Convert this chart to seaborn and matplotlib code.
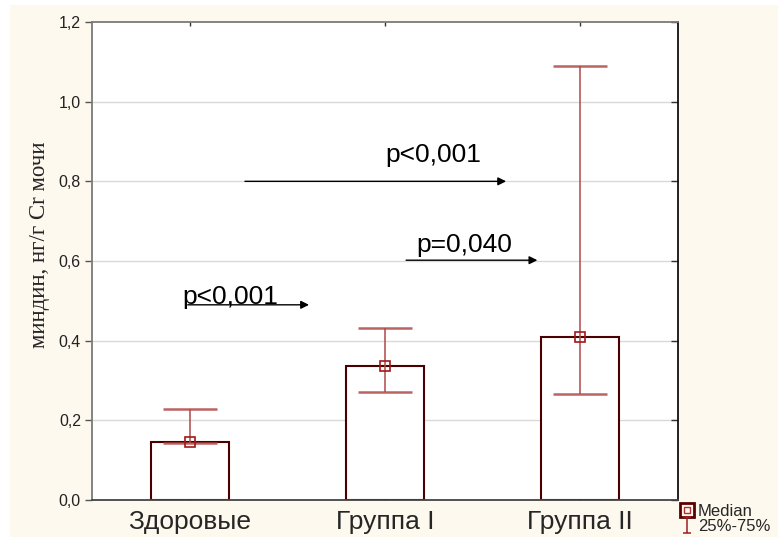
import numpy as np
import pandas as pd
import seaborn as sns
import matplotlib
matplotlib.use("Agg")
import matplotlib.pyplot as plt
from matplotlib.patches import Rectangle
from matplotlib.lines import Line2D
from matplotlib.path import Path

# Group medians and interquartile ranges
categories = ["Здоровые", "Группа I", "Группа II"]
median = [0.146, 0.336, 0.409]
q25 = [0.142, 0.272, 0.266]
q75 = [0.229, 0.433, 1.090]
y_ticks = [0.0, 0.2, 0.4, 0.6, 0.8, 1.0, 1.2]
y_tick_labels = ["0,0", "0,2", "0,4", "0,6", "0,8", "1,0", "1,2"]

# Significance annotations: (text, x text, y text, x start, x end, y arrow)
p_labels = ["p<0,001", "p=0,040", "p<0,001"]
p_text_x = [1.0, 1.16, -0.04]
p_text_y = [0.866, 0.64, 0.51]
p_arrow_x0 = [0.283, 1.108, -0.01]
p_arrow_x1 = [1.62, 1.78, 0.611]
p_arrow_y = [0.80, 0.602, 0.49]

df = pd.DataFrame({"group": categories, "median": median})

sns.set_theme(style="white")
plt.rcParams["font.family"] = ["Liberation Sans", "DejaVu Sans"]

W, H = 778, 537
fig = plt.figure(figsize=(W / 100, H / 100), dpi=100)
fig.patch.set_facecolor("white")
fig.patches.append(Rectangle((10 / W, 0), 1 - 10 / W, 1 - 5 / H,
                             transform=fig.transFigure, facecolor="#fef9ee",
                             edgecolor="none", zorder=-10))

ax = fig.add_axes([92 / W, 1 - 500 / H, (678 - 92) / W, 478 / H])
ax.set_facecolor("white")

for v in y_ticks[1:-1]:
    ax.axhline(v, color="#d9d9d9", lw=1.0, zorder=0)

sns.barplot(data=df, x="group", y="median", ax=ax, width=0.4,
            color="white", edgecolor="#4a0000", linewidth=1.5, zorder=2)

xs = np.arange(len(categories))
med = np.array(median)
lo = med - np.array(q25)
hi = np.array(q75) - med
ax.errorbar(xs, med, yerr=[lo, hi], fmt="none", ecolor="#b04848",
            elinewidth=1.3, capsize=19.5, capthick=1.8, alpha=0.85, zorder=3)
ax.plot(xs, med, linestyle="none", marker="s", markersize=7,
        markerfacecolor="none", markeredgecolor="#a01818",
        markeredgewidth=1.2, zorder=4)

for t, tx, ty, x0, x1, ya in zip(p_labels, p_text_x, p_text_y,
                                  p_arrow_x0, p_arrow_x1, p_arrow_y):
    ax.text(tx, ty, t, fontsize=19, color="black", ha="left", va="center",
            zorder=5)
    ax.annotate("", xy=(x1, ya), xytext=(x0, ya),
                arrowprops=dict(arrowstyle="-|>", color="black", lw=1.0,
                                mutation_scale=12, shrinkA=0, shrinkB=0),
                zorder=5)

ax.set_xlim(-0.5, 2.5)
ax.set_ylim(0, 1.2)
ax.set_yticks(y_ticks)
ax.set_yticklabels(y_tick_labels, fontsize=11.5)
ax.set_xticks(xs)
ax.set_xticklabels(categories, fontsize=19)
ax.set_xlabel("")
ax.set_ylabel("миндин, нг/г Cr мочи", family=["Liberation Serif"],
              fontsize=16.5)
ax.yaxis.set_label_coords(-0.072, 0.535)

ax.tick_params(axis="y", which="both", left=True, right=True, direction="out",
               length=5, width=1, color="#555555", pad=3)
ax.tick_params(axis="x", which="both", bottom=True, top=True, direction="in",
               length=3, width=1, color="#333333", pad=7)
for lbl in ax.get_yticklabels():
    lbl.set_color("#222222")

ax.spines["left"].set_color("#7a7a7a")
ax.spines["top"].set_color("#7a7a7a")
ax.spines["right"].set_color("#111111")
ax.spines["bottom"].set_color("#444444")
for s in ax.spines.values():
    s.set_linewidth(1.3)

# right-side ticks point inward
for t in ax.yaxis.get_major_ticks():
    t.tick2line.set_marker(matplotlib.lines.TICKLEFT)
    t.tick2line.set_markeredgecolor("#333333")

# legend outside, lower right
ibar = Path([(-0.5, 1), (0.5, 1), (0, 1), (0, -1), (-0.5, -1), (0.5, -1)],
            [Path.MOVETO, Path.LINETO, Path.MOVETO, Path.LINETO,
             Path.MOVETO, Path.LINETO])
h_med_outer = Line2D([], [], linestyle="none", marker="s", markersize=10,
                     markerfacecolor="none", markeredgecolor="#5a0000",
                     markeredgewidth=2)
h_med_inner = Line2D([], [], linestyle="none", marker="s", markersize=5,
                     markerfacecolor="none", markeredgecolor="#b03030",
                     markeredgewidth=1)
h_iqr = Line2D([], [], linestyle="none", marker=ibar, markersize=11,
               markerfacecolor="none", markeredgecolor="#a02020",
               markeredgewidth=1.1)
fig.legend([(h_med_outer, h_med_inner), h_iqr], ["Median", "25%-75%"],
           loc="lower left", bbox_to_anchor=(671 / W, -0.010), frameon=False,
           fontsize=12, handlelength=0.9, handletextpad=0.2,
           labelspacing=0.0, borderpad=0.0)

fig.savefig("out.png", dpi=100)
